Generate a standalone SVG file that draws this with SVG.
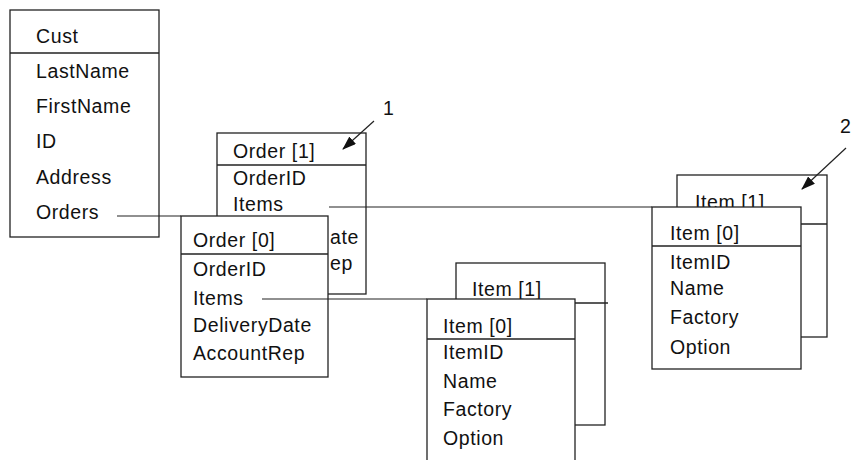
<svg xmlns="http://www.w3.org/2000/svg" width="853" height="460" viewBox="0 0 853 460">
<defs>
<style>
.box{fill:#fff;stroke:#222;stroke-width:1.3}
.div{stroke:#222;stroke-width:1.3;fill:none}
.t{font-family:"Liberation Sans",Arial,sans-serif;font-size:19.5px;letter-spacing:0.6px;fill:#111}
.ln{stroke:#222;stroke-width:1.2;fill:none}
</style>
<marker id="ah" markerWidth="14" markerHeight="10" refX="13" refY="5" orient="auto" markerUnits="userSpaceOnUse">
<path d="M0,0 L14,5 L0,10 Z" fill="#111"/>
</marker>
</defs>
<rect width="853" height="460" fill="#fff"/>

<g id="cust">
<rect class="box" x="10" y="10" width="149" height="227"/>
<line class="div" x1="10" y1="53" x2="159" y2="53"/>
<text class="t" x="36" y="43">Cust</text>
<text class="t" x="36" y="78">LastName</text>
<text class="t" x="36" y="113">FirstName</text>
<text class="t" x="36" y="148">ID</text>
<text class="t" x="36" y="184">Address</text>
<text class="t" x="36" y="219">Orders</text>
</g>

<g id="order1">
<rect class="box" x="217" y="133" width="149" height="161"/>
<line class="div" x1="217" y1="165" x2="366" y2="165"/>
<text class="t" x="233" y="158">Order [1]</text>
<text class="t" x="233" y="185">OrderID</text>
<text class="t" x="233" y="211">Items</text>
<text class="t" x="330" y="244">ate</text>
<text class="t" x="330" y="270">ep</text>
</g>

<g id="order0">
<rect class="box" x="181" y="216" width="147" height="161"/>
<line class="div" x1="181" y1="254" x2="328" y2="254"/>
<text class="t" x="193" y="247">Order [0]</text>
<text class="t" x="193" y="276">OrderID</text>
<text class="t" x="193" y="305">Items</text>
<text class="t" x="193" y="332">DeliveryDate</text>
<text class="t" x="193" y="360">AccountRep</text>
</g>

<g id="item1-mid">
<rect class="box" x="456" y="263" width="149" height="162"/>
<line class="div" x1="456" y1="303" x2="608" y2="303"/>
<text class="t" x="472" y="296">Item [1]</text>
</g>

<g id="item0-mid">
<rect class="box" x="427" y="299" width="148" height="175"/>
<line class="div" x1="427" y1="339" x2="575" y2="339"/>
<text class="t" x="443" y="333">Item [0]</text>
<text class="t" x="443" y="359">ItemID</text>
<text class="t" x="443" y="388">Name</text>
<text class="t" x="443" y="416">Factory</text>
<text class="t" x="443" y="445">Option</text>
</g>

<g id="item1-right">
<rect class="box" x="677" y="175" width="150" height="162"/>
<line class="div" x1="677" y1="224" x2="827" y2="224"/>
<text class="t" x="695" y="209">Item [1]</text>
</g>

<g id="item0-right">
<rect class="box" x="652" y="207" width="149" height="162"/>
<line class="div" x1="652" y1="246" x2="801" y2="246"/>
<text class="t" x="670" y="240">Item [0]</text>
<text class="t" x="670" y="269">ItemID</text>
<text class="t" x="670" y="295">Name</text>
<text class="t" x="670" y="324">Factory</text>
<text class="t" x="670" y="354">Option</text>
</g>

<g id="connectors">
<line class="ln" x1="117" y1="216" x2="181" y2="216"/>
<line class="ln" x1="329" y1="207" x2="652" y2="207"/>
<line class="ln" x1="262" y1="299" x2="427" y2="299"/>
<line class="ln" x1="374" y1="121" x2="343" y2="149" marker-end="url(#ah)"/>
<line class="ln" x1="846" y1="148" x2="802" y2="189" marker-end="url(#ah)"/>
</g>

<g id="labels">
<text class="t" x="383" y="115">1</text>
<text class="t" x="840" y="133">2</text>
</g>
</svg>
